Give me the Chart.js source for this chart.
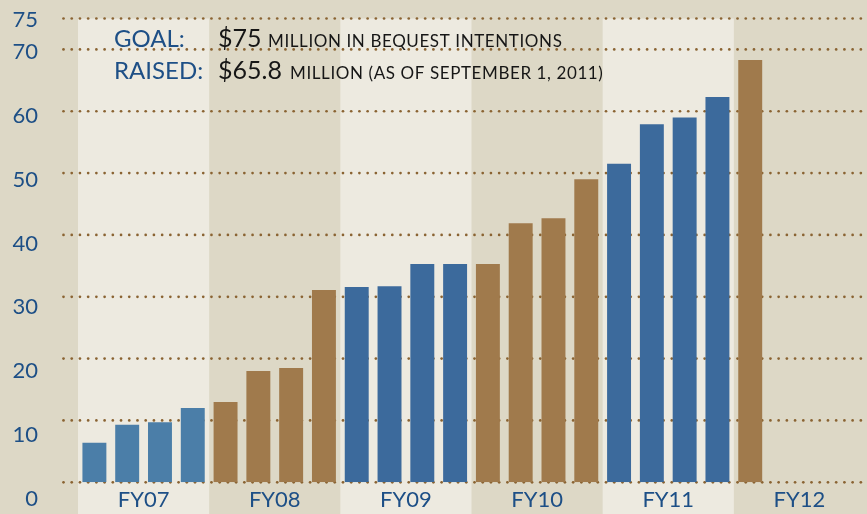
<!DOCTYPE html>
<html>
<head>
<meta charset="utf-8">
<script src="https://cdn.jsdelivr.net/npm/chart.js@4/dist/chart.umd.min.js"></script>
<style>
html,body{margin:0;padding:0;background:#ddd8c6;overflow:hidden;}
#wrap{width:867px;height:514px;position:relative;}
</style>
</head>
<body>
<div id="wrap"><canvas id="c"></canvas></div>
<script>
// ---- data ----
const fiscalYears = ['FY07', 'FY08', 'FY09', 'FY10', 'FY11', 'FY12'];
const quarterNames = ['Q1', 'Q2', 'Q3', 'Q4'];
const fy07 = [6.4, 9.3, 9.7, 12.0];
const fy08 = [13.0, 18.0, 18.5, 31.1];
const fy09 = [31.6, 31.7, 35.3, 35.3];
const fy10 = [35.3, 41.9, 42.7, 49.0];
const fy11 = [51.5, 57.9, 59.0, 62.3];
const fy12 = [68.3, null, null, null];
const yTicks = [0, 10, 20, 30, 40, 50, 60, 70, 75];
const goalLabel = 'GOAL:';
const goalAmount = '$75';
const goalText = 'MILLION IN BEQUEST INTENTIONS';
const raisedLabel = 'RAISED:';
const raisedAmount = '$65.8';
const raisedText = 'MILLION (AS OF SEPTEMBER 1, 2011)';

// ---- styles ----
const fyColors = ['#4b7ea8', '#a07a4c', '#3c6a9c', '#a07a4c', '#3c6a9c', '#a07a4c'];
const darkBg = '#ddd8c6';
const lightBg = '#edeae0';
const dotColor = '#8a6332';
const blueText = '#1d4f86';
const FONT = 'Lato, "Open Sans", sans-serif';

const quarters = fiscalYears.flatMap(fy => quarterNames.map(q => fy + ' ' + q));
const values = [].concat(fy07, fy08, fy09, fy10, fy11, fy12);
const barColors = fiscalYears.flatMap((fy, i) => quarterNames.map(() => fyColors[i]));

const bandPlugin = {
  id: 'bands',
  beforeDraw(chart) {
    const ctx = chart.ctx;
    const area = chart.chartArea;
    const fx = chart.scales.xFY;
    ctx.save();
    ctx.fillStyle = darkBg;
    ctx.fillRect(0, 0, chart.width, chart.height);
    const step = fx.getPixelForValue(1) - fx.getPixelForValue(0);
    fiscalYears.forEach((fy, i) => {
      if (i % 2 === 0) {
        const cx = fx.getPixelForValue(i);
        ctx.fillStyle = lightBg;
        ctx.fillRect(cx - step / 2, area.top, step, chart.height - area.top);
      }
    });
    ctx.restore();
  }
};

const dotGridPlugin = {
  id: 'dotgrid',
  beforeDatasetsDraw(chart) {
    const ctx = chart.ctx;
    const ys = chart.scales.y;
    ctx.save();
    ctx.fillStyle = dotColor;
    yTicks.forEach(v => {
      const y = ys.getPixelForValue(v);
      for (let x = 63.5; x <= chart.width; x += 8.22) {
        ctx.beginPath();
        ctx.arc(x, y, 1.35, 0, Math.PI * 2);
        ctx.fill();
      }
    });
    ctx.restore();
  }
};

const textPlugin = {
  id: 'goaltext',
  afterDraw(chart) {
    const ctx = chart.ctx;
    ctx.save();
    ctx.textAlign = 'left';
    ctx.textBaseline = 'alphabetic';
    ctx.fillStyle = blueText;
    ctx.font = '24px ' + FONT;
    ctx.fillText(goalLabel, 114, 47);
    ctx.fillText(raisedLabel, 114, 79);
    ctx.fillStyle = '#161616';
    ctx.font = '25px ' + FONT;
    ctx.fillText(goalAmount, 218, 47);
    ctx.fillText(raisedAmount, 218, 79);
    ctx.font = '17px ' + FONT;
    if ('letterSpacing' in ctx) ctx.letterSpacing = '0.6px';
    ctx.fillText(goalText, 268, 47);
    ctx.fillText(raisedText, 290, 79);
    ctx.restore();
  }
};

function build() {
  new Chart(document.getElementById('c'), {
    type: 'bar',
    data: {
      labels: quarters,
      datasets: [{
        data: values,
        backgroundColor: barColors,
        borderWidth: 0,
        barPercentage: 0.73,
        categoryPercentage: 1.0,
        xAxisID: 'x',
        yAxisID: 'y'
      }]
    },
    options: {
      responsive: true,
      maintainAspectRatio: false,
      animation: false,
      layout: { padding: { top: 18.5, right: 2, left: 0, bottom: 0 } },
      plugins: { legend: { display: false }, tooltip: { enabled: false } },
      scales: {
        x: { type: 'category', display: false, offset: true },
        xFY: {
          type: 'category', labels: fiscalYears, position: 'bottom', offset: true,
          grid: { display: false, drawTicks: false }, border: { display: false },
          afterFit: s => { s.height = 514 - 482.3; s.paddingLeft = 0; s.paddingRight = 0; },
          ticks: { padding: 4, color: blueText, font: { family: FONT, size: 22 }, maxRotation: 0, autoSkip: false }
        },
        y: { type: 'linear', display: false, min: 0, max: 75 },
        yL: {
          type: 'linear', position: 'left', min: 2.61, max: 75.23,
          afterBuildTicks: s => { s.ticks = yTicks.map(v => ({ value: v })); },
          afterFit: s => { s.width = 78; s.paddingTop = 0; s.paddingBottom = 0; },
          grid: { display: false, drawTicks: true, tickLength: 40 }, border: { display: false },
          ticks: { autoSkip: false, padding: 0, color: blueText, font: { family: FONT, size: 22 }, callback: v => String(v) }
        }
      }
    },
    plugins: [bandPlugin, dotGridPlugin, textPlugin]
  });
}

if (document.fonts && document.fonts.load) {
  Promise.all([document.fonts.load('22px Lato'), document.fonts.load('17px Lato')]).then(build, build);
} else {
  build();
}
</script>
</body>
</html>
